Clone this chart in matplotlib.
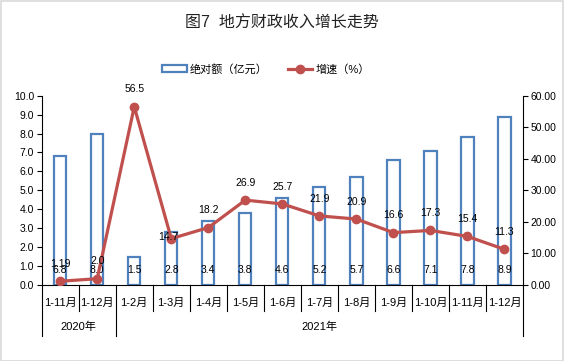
import numpy as np
import matplotlib
matplotlib.use('Agg')
from matplotlib import pyplot as plt
from matplotlib.patches import Rectangle
from matplotlib.lines import Line2D

plt.rcParams['font.family'] = ['Liberation Sans', 'Noto Sans CJK SC', 'DejaVu Sans']

#-- DATA
months = ['1-11月', '1-12月', '1-2月', '1-3月', '1-4月', '1-5月', '1-6月',
          '1-7月', '1-8月', '1-9月', '1-10月', '1-11月', '1-12月']
years = ['2020年', '2021年']
year_counts = [2, 11]
amount = [6.8, 8.0, 1.5, 2.8, 3.4, 3.8, 4.6, 5.2, 5.7, 6.6, 7.1, 7.8, 8.9]
growth = [1.19, 2.0, 56.5, 14.7, 18.2, 26.9, 25.7, 21.9, 20.9, 16.6, 17.3, 15.4, 11.3]
growth_labels = ['1.19', '2.0', '56.5', '14.7', '18.2', '26.9', '25.7',
                 '21.9', '20.9', '16.6', '17.3', '15.4', '11.3']

blue = '#4F81BD'
red = '#C0504D'

W, H = 564, 361
fig = plt.figure(figsize=(W/100, H/100), dpi=100)
fig.patches.append(Rectangle((0.5/W, 0.5/H), 1-1.5/W, 1-1.5/H, transform=fig.transFigure,
                             fill=False, edgecolor='#D9D9D9', linewidth=1.2))

ax = fig.add_axes([41.7/W, 1-285/H, (523-41.7)/W, (285-95.7)/H])
ax2 = ax.twinx()

x = np.arange(len(months))

# bars (hollow)
ax.bar(x, amount, width=0.33, facecolor='none', edgecolor=blue, linewidth=1.6, zorder=2)
for xi, v in zip(x, amount):
    ax.text(xi, 0.8, '%.1f' % v, ha='center', va='center', fontsize=7.5, zorder=5)

ax.set_xlim(-0.5, len(months)-0.5)
ax.set_ylim(0, 10)
ax.set_yticks(np.arange(0, 10.1, 1))
ax.set_yticklabels(['%.1f' % t for t in np.arange(0, 10.1, 1)], fontsize=7.5)

# line on top
ax2.plot(x, growth, color=red, linewidth=2.3, marker='o', markersize=6, zorder=3)
for xi, v, lab in zip(x, growth, growth_labels):
    dx, dy = 0, 12.5
    if lab == '14.7':
        dx, dy = -2, 1.5
    ax2.annotate(lab, (xi, v), xytext=(dx, dy), textcoords='offset points',
                 ha='center', va='center', fontsize=7.5, zorder=6)
ax2.set_ylim(0, 60)
ax2.set_yticks(np.arange(0, 61, 10))
ax2.set_yticklabels(['%.2f' % t for t in np.arange(0, 61, 10)], fontsize=7.5)

for a in (ax, ax2):
    a.spines['top'].set_visible(False)
    a.tick_params(axis='y', direction='out', length=3.5, width=0.8, pad=2)
ax.spines['right'].set_visible(False)
ax2.spines['left'].set_visible(False)
ax2.spines['bottom'].set_visible(False)

# multi level category axis
ax.set_xticks([])
trans = ax.get_xaxis_transform()
for i, m in enumerate(months):
    ax.text(i, -0.095, m, transform=trans, ha='center', va='center', fontsize=8)
bounds = np.cumsum([0] + year_counts) - 0.5
for b in np.arange(-0.5, len(months), 1):
    deep = -0.272 if np.any(np.isclose(bounds, b)) else -0.137
    ax.plot([b, b], [0, deep], transform=trans, color='black', linewidth=0.8, clip_on=False)
for yr, s, e in zip(years, bounds[:-1], bounds[1:]):
    ax.text((s+e)/2, -0.219, yr, transform=trans, ha='center', va='center', fontsize=8)

# title and legend
fig.text(0.5, 1-23/H, '图7  地方财政收入增长走势', ha='center', va='center', fontsize=11.5, color='#222222')
handles = [Rectangle((0, 0), 1, 1, facecolor='white', edgecolor=blue, linewidth=1.6),
           Line2D([], [], color=red, linewidth=2.3, marker='o', markersize=6)]
fig.legend(handles, ['绝对额（亿元）', '增速（%）'], loc='center', bbox_to_anchor=(266/W, 1-69/H),
           ncol=2, frameon=False, fontsize=8, handlelength=2.2, handletextpad=0.3, columnspacing=1.8)

fig.savefig('out.png', dpi=100)
